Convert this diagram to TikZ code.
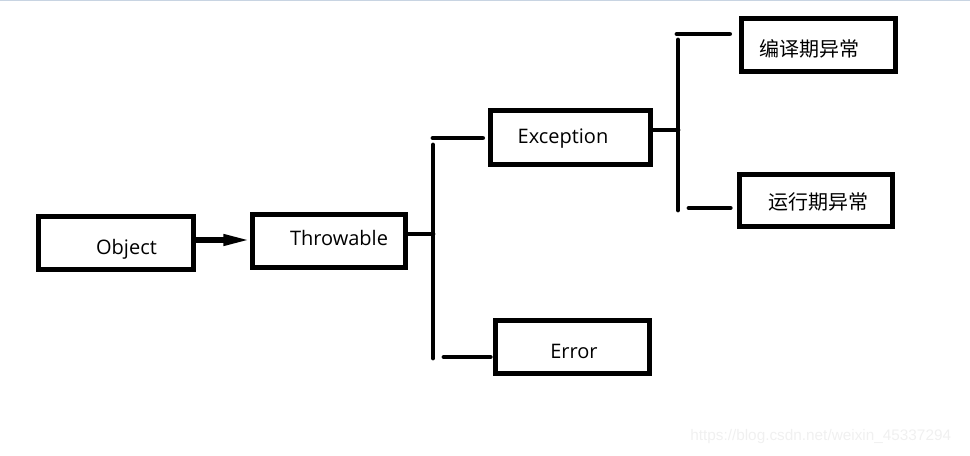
\documentclass[tikz,border=0pt]{standalone}
\usepackage{fontspec}
\setmainfont{Open Sans}
\newfontfamily\cjk{Noto Sans CJK SC}
\newfontfamily\markfont{Liberation Sans}
\usetikzlibrary{arrows.meta}
\definecolor{edgeblue}{RGB}{200,212,226}
\definecolor{markgray}{RGB}{240,240,240}
\tikzset{
  box/.style 2 args={draw,line width=3.5pt,minimum width=#1*0.75pt,minimum height=#2*0.75pt,inner sep=0pt},
  boxtext/.style={anchor=base,inner sep=0pt,font=\fontsize{15}{18}\selectfont},
  bar/.style={line width=3.6pt,line cap=round},
}
\begin{document}
\begin{tikzpicture}[x=0.75pt,y=-0.75pt]
\useasboundingbox (0,0) rectangle (970,456);
\draw[edgeblue,line width=0.75pt] (0,0.5) -- (970,0.5);
% boxes
\node[box={155.4}{53.4}] (obj) at (116,243) {};
\node[box={153.4}{53.4}] (throw) at (329,241) {};
\node[box={160.4}{54.4}] (exc) at (570.5,137.5) {};
\node[box={154.4}{53.4}] (err) at (572.5,347) {};
\node[box={154.4}{53.4}] (comp) at (818.5,45) {};
\node[box={153.4}{52.4}] (run) at (816,200.5) {};
% texts
\node[boxtext] (objtext) at (126.5,254) {Object};
\node[boxtext] (throwtext) at (339,245) {Throwable};
\node[boxtext] (exctext) at (563,144) {Exception};
\node[boxtext] (errtext) at (574,358) {Error};
\node[boxtext,font=\cjk\fontsize{15}{18}\selectfont] (comptext) at (809.5,57) {编译期异常};
\node[boxtext,font=\cjk\fontsize{15}{18}\selectfont] (runtext) at (818.5,209) {运行期异常};
% Object -> Throwable
\draw[line width=3.8pt,-{Triangle[open,length=20pt,width=8pt]}] (obj.east |- 0,240) -- (throw.west |- 0,240);
% first bracket
\coordinate (jmid) at (433,234);
\coordinate (jtop) at (433,145);
\coordinate (jbot) at (433,358);
\coordinate (stubexc) at (433,138);
\coordinate (stuberr) at (444,357);
\draw[bar] (throw.east |- jmid) -- (jmid);
\draw[bar] (jtop) -- (jbot);
\draw[bar,shorten >=4pt] (stubexc) -- (stubexc -| exc.west);
\draw[bar,shorten >=2pt] (stuberr) -- (stuberr -| err.west);
% second bracket
\coordinate (kmid) at (678,130);
\coordinate (ktop) at (678,40);
\coordinate (kbot) at (678,210);
\coordinate (stubcomp) at (677,34);
\coordinate (stubrun) at (689,208);
\draw[bar] (exc.east |- kmid) -- (kmid);
\draw[bar] (ktop) -- (kbot);
\draw[bar,shorten >=7pt] (stubcomp) -- (stubcomp -| comp.west);
\draw[bar,shorten >=5pt] (stubrun) -- (stubrun -| run.west);
% watermark
\node[anchor=west,inner sep=0pt,text=markgray,font=\markfont\fontsize{11.5}{14}\selectfont] (mark) at (690,437) {https://blog.csdn.net/weixin\_45337294};
\end{tikzpicture}
\end{document}
